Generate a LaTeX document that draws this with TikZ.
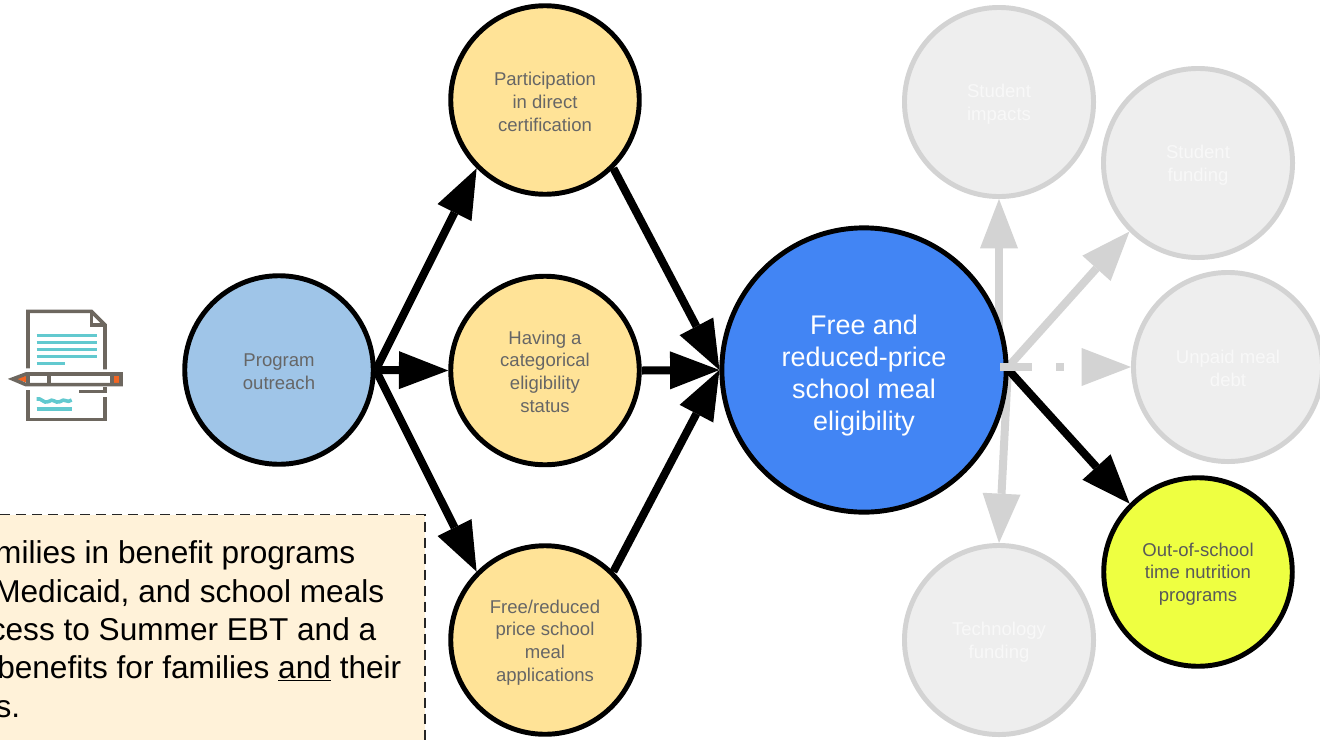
\documentclass[tikz,border=0pt]{standalone}
\usepackage{fontspec}
\setmainfont{Liberation Sans}
\usetikzlibrary{arrows.meta,backgrounds}
\definecolor{ink}{HTML}{666666}
\definecolor{mutedline}{HTML}{D3D3D3}
\definecolor{mutedfill}{HTML}{EEEEEE}
\definecolor{mutedtext}{HTML}{F8F8F8}
\definecolor{amber}{HTML}{FFE397}
\definecolor{skyfill}{HTML}{9FC5E8}
\definecolor{royal}{HTML}{4285F4}
\definecolor{lime}{HTML}{EEFF41}
\definecolor{cream}{HTML}{FFF2D9}
\definecolor{iconline}{HTML}{6D675F}
\definecolor{teal}{HTML}{62C9CF}
\definecolor{tiporange}{HTML}{F26522}
\tikzset{
  bub/.style={circle,draw=black,line width=3.7pt,inner sep=0pt,minimum size=141.4pt},
  amberbub/.style={bub,fill=amber},
  mutedbub/.style={bub,draw=mutedline,fill=mutedfill,minimum size=141.8pt},
  lab/.style={inner sep=0pt,align=center,text=ink,font=\fontsize{13.9}{17}\selectfont},
  mutedlab/.style={lab,text=mutedtext},
  flow/.style={line width=6pt,draw=black,-{Triangle[length=37pt,width=28.5pt,line width=0pt]}},
  mutedflow/.style={line width=6pt,draw=mutedline,-{Triangle[length=37pt,width=28.5pt,line width=0pt,fill=mutedline]}},
  boxline/.style={anchor=base east,inner sep=0pt,font=\fontsize{23.7}{29}\selectfont,text=black},
  icon/.style={draw=iconline,line width=2.7pt},
  iconteal/.style={draw=teal,line width=2.7pt}
}
\begin{document}
\begin{tikzpicture}[x=0.75pt,y=-0.75pt]
\useasboundingbox (0,0) rectangle (1320,740);
% note box
\fill[cream] (0,514.5) rectangle (425,740);
\draw[black!85,line width=1.2pt,dash pattern=on 7.5pt off 4.5pt] (0,514.5) -- (425,514.5) -- (425,740);
\node[boxline] (b1) at (355.5,563) {milies in benefit programs};
\node[boxline] (b2) at (384.5,602) {Medicaid, and school meals};
\node[boxline] (b3) at (376.5,640) {cess to Summer EBT and a};
\node[boxline] (b4) at (401.5,678.5) {benefits for families \underline{and} their};
\node[boxline] (b5) at (20.5,717) {s.};
% bubbles
\node[bub,fill=skyfill] (prog) at (279,370) {};
\node[amberbub] (part) at (545,100) {};
\node[amberbub] (cat) at (545,370.5) {};
\node[amberbub] (app) at (545,640) {};
\node[bub,fill=royal,minimum size=213.2pt] (elig) at (864,370) {};
\node[mutedbub] (imp) at (999,102) {};
\node[mutedbub] (fund) at (1198,163) {};
\node[mutedbub] (debt) at (1228,367) {};
\node[mutedbub] (tech) at (999,640) {};
\node[bub,fill=lime] (ost) at (1198,572) {};
% bubble labels
\node[lab,yshift=-1.5pt] (progt) at (prog) {Program\\outreach};
\node[lab,yshift=-1.5pt] (partt) at (part) {Participation\\in direct\\certification};
\node[lab,yshift=-0.8pt] (catt) at (cat) {Having a\\categorical\\eligibility\\status};
\node[lab,yshift=-1.8pt] (appt) at (app) {Free/reduced\\price school\\meal\\applications};
\node[lab,text=white,font=\fontsize{20.2}{24}\selectfont,yshift=-3.8pt] (eligt) at (elig) {Free and\\reduced-price\\school meal\\eligibility};
\node[mutedlab,yshift=-1.8pt] (impt) at (imp) {Student\\impacts};
\node[mutedlab,yshift=-1.5pt] (fundt) at (fund) {Student\\funding};
\node[mutedlab,yshift=-0.8pt] (debtt) at (debt) {Unpaid meal\\debt};
\node[mutedlab,yshift=-1.8pt] (techt) at (tech) {Technology\\funding};
\node[lab,text=black!65,yshift=-1.5pt] (ostt) at (ost) {Out-of-school\\time nutrition\\programs};
% muted connectors
\coordinate (hub) at (1008,367);
\coordinate (hubv) at (999,367);
\coordinate (hubd) at (1000,367);
\begin{scope}[on background layer]
\draw[mutedflow] (hubv) -- (imp.south);
\draw[mutedflow] (hub) -- (tech.north);
\draw[mutedflow] (hub) -- (fund.225);
\end{scope}
% black connectors
\draw[flow] (prog.east) -- (part.225);
\draw[flow] (prog.east) -- (cat.west);
\draw[flow] (prog.east) -- (app.135);
\draw[flow] (part.-45) -- (elig.west);
\draw[flow] (cat.east) -- (elig.west);
\draw[flow] (app.45) -- (elig.west);
\draw[flow] (elig.east) -- (ost.135);
\draw[mutedflow,dash pattern=on 24pt off 18pt on 6pt off 60pt] (hubd) -- (debt.west);
% document icon
\begin{scope}[shift={(0pt,-217.5pt)},x=0.25pt,y=-0.25pt]
\draw[icon] (84,235) -- (84,64) -- (274,64) -- (315,105) -- (315,238);
\draw[icon] (84,300) -- (84,389) -- (315,389) -- (315,322);
\draw[icon] (274,64) -- (274,105) -- (315,105);
\foreach \yy in {137,158,179,200} \draw[iconteal] (110,\yy) -- (290,\yy);
\draw[iconteal] (110,221) -- (195,221);
\draw[iconteal] (110,357) -- (215,357);
\draw[iconteal] (110,327) .. controls (125,322) and (130,342) .. (145,335) .. controls (160,322) and (165,342) .. (180,335) .. controls (195,322) and (200,342) .. (215,330);
\fill[tiporange] (48,267) -- (78,257) -- (78,277) -- cycle;
\fill[tiporange] (342,258) rectangle (358,278);
\draw[icon,line join=miter] (38,267) -- (78,252) -- (363,252) -- (363,284) -- (78,284) -- cycle;
\draw[icon] (84,252) -- (84,284);
\draw[icon] (147,252) -- (147,284);
\draw[icon] (336,252) -- (336,284);
\draw[icon] (237,305) -- (315,305) -- (315,290);
\end{scope}
\end{tikzpicture}
\end{document}
